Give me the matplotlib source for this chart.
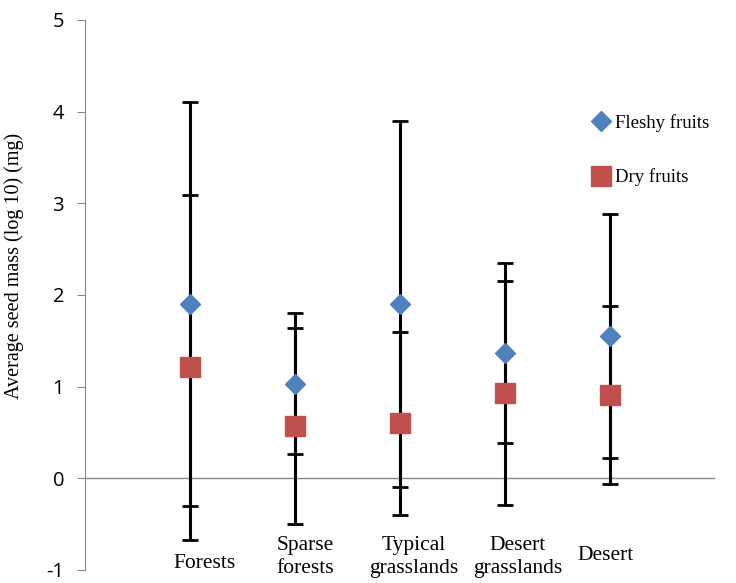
import numpy as np
from matplotlib import pyplot as plt

habitats = ['Forests', 'Sparse\nforests', 'Typical\ngrasslands', 'Desert\ngrasslands', 'Desert']
fleshy_mean = [1.90, 1.03, 1.90, 1.37, 1.55]
fleshy_err = [2.20, 0.77, 2.00, 0.98, 1.33]
dry_mean = [1.21, 0.57, 0.60, 0.93, 0.91]
dry_err = [1.88, 1.07, 1.00, 1.22, 0.97]
y_ticks = [-1, 0, 1, 2, 3, 4, 5]

blue = '#4F81BD'
red = '#C0504D'
serif = ['Liberation Serif', 'DejaVu Serif']
plt.rcParams['axes.unicode_minus'] = False

fig = plt.figure(figsize=(7.36, 5.83), dpi=100)
ax = fig.add_axes([0.1155, 0.0223, 0.856, 0.9434])

x = np.arange(1, len(habitats) + 1)

# Полосы ошибок и маркеры
ax.errorbar(x, fleshy_mean, yerr=fleshy_err, fmt='none', ecolor='black',
            elinewidth=2.2, capsize=5.5, capthick=2, zorder=2)
ax.errorbar(x, dry_mean, yerr=dry_err, fmt='none', ecolor='black',
            elinewidth=2.2, capsize=5.5, capthick=2, zorder=2)
ax.plot(x, fleshy_mean, 'D', color=blue, markersize=10.5, linestyle='none',
        label='Fleshy fruits', zorder=3)
ax.plot(x, dry_mean, 's', color=red, markersize=14, linestyle='none',
        label='Dry fruits', zorder=3)

ax.set_xlim(0, 6)
ax.set_ylim(-1, 5)
ax.set_yticks(y_ticks)
ax.tick_params(axis='y', direction='out', length=6, color='#888888',
               labelsize=14.5, pad=9)
for lab in ax.get_yticklabels():
    lab.set_fontfamily(['Open Sans', 'DejaVu Sans'])
ax.set_xticks([])

for side in ['top', 'right', 'bottom']:
    ax.spines[side].set_visible(False)
ax.spines['left'].set_color('#888888')
ax.axhline(0, color='#888888', linewidth=1, zorder=1)

ax.set_ylabel('Average seed mass (log 10) (mg)', fontsize=14.5, family=serif)
ax.yaxis.set_label_coords(-0.097, 0.552)

# Подписи категорий внутри области графика
label_dx = [0.14, 0.10, 0.13, 0.12, -0.04]
label_y = [-0.93, -0.86, -0.86, -0.86, -0.84]
for xi, name, dx, ly in zip(x, habitats, label_dx, label_y):
    ax.text(xi + dx, ly, name, ha='center', va='center', fontsize=15.5,
            family=serif, linespacing=1.3)

ax.legend(loc='upper left', bbox_to_anchor=(0.775, 0.86), frameon=False,
          prop={'family': serif, 'size': 13.5}, handletextpad=0.15,
          labelspacing=1.95, handlelength=1.2)

fig.savefig('out.png', dpi=100)
